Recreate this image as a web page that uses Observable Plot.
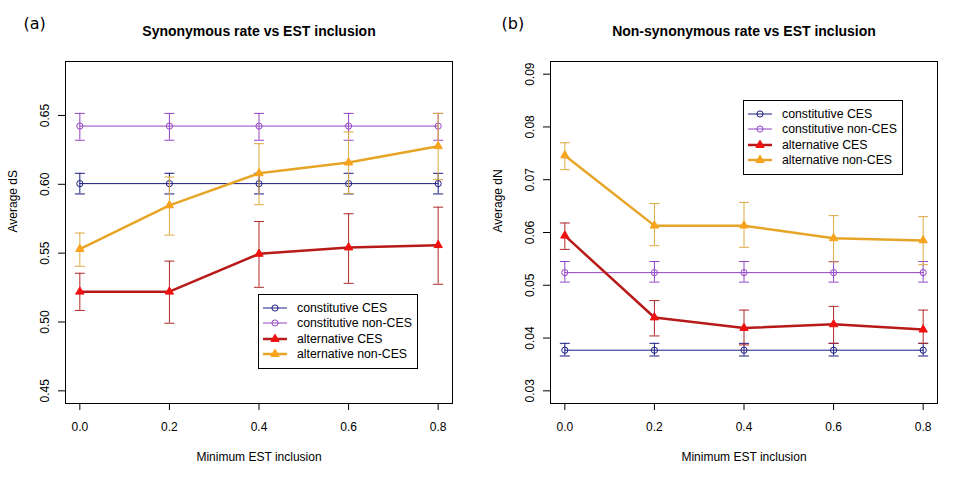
<!DOCTYPE html>
<html><head><meta charset="utf-8">
<script src="https://cdn.jsdelivr.net/npm/d3@7"></script>
<script src="https://cdn.jsdelivr.net/npm/@observablehq/plot@0.6"></script>
<style>
body{margin:0;background:#fff;}
#wrap{position:relative;width:980px;height:478px;display:flex;font-family:"Liberation Sans",Arial,sans-serif;}
.panel{position:relative;width:490px;height:478px;}
.legend{position:absolute;box-sizing:border-box;border:1px solid #000;background:#fff;font-size:12.3px;padding-top:5.5px;color:#000;}
.legend .row{height:15.3px;display:flex;align-items:center;white-space:nowrap;}
.legend svg{margin-left:4px;margin-right:10px;flex:none;}
</style></head><body><div id="wrap"></div>
<script>
// ---------- data ----------
const xValues = [0, 0.2, 0.4, 0.6, 0.8];
const xTicks = [0, 0.2, 0.4, 0.6, 0.8];
const seriesNames = ["constitutive CES", "constitutive non-CES", "alternative CES", "alternative non-CES"];

// Panel (a): average dS
const dS_constCES    = [0.6005, 0.6005, 0.6005, 0.6005, 0.6005];
const dS_constCES_lo = [0.593, 0.593, 0.593, 0.593, 0.593];
const dS_constCES_hi = [0.608, 0.608, 0.608, 0.608, 0.608];
const dS_constNon    = [0.6423, 0.6423, 0.6423, 0.6423, 0.6423];
const dS_constNon_lo = [0.632, 0.632, 0.632, 0.632, 0.632];
const dS_constNon_hi = [0.6515, 0.6515, 0.6515, 0.6515, 0.6515];
const dS_altCES      = [0.522, 0.522, 0.5495, 0.5541, 0.5558];
const dS_altCES_lo   = [0.5084, 0.4991, 0.5252, 0.5281, 0.5274];
const dS_altCES_hi   = [0.5354, 0.5442, 0.573, 0.5786, 0.5834];
const dS_altNon      = [0.553, 0.5847, 0.608, 0.6158, 0.6277];
const dS_altNon_lo   = [0.5405, 0.5631, 0.5852, 0.5932, 0.6034];
const dS_altNon_hi   = [0.5646, 0.6053, 0.6295, 0.638, 0.6515];
const dSTicks = [0.45, 0.50, 0.55, 0.60, 0.65];
const dSLimits = [0.45, 0.68];

// Panel (b): average dN
const dN_constCES    = [0.0377, 0.0377, 0.0377, 0.0377, 0.0377];
const dN_constCES_lo = [0.0366, 0.0366, 0.0366, 0.0366, 0.0366];
const dN_constCES_hi = [0.0390, 0.0390, 0.0390, 0.0390, 0.0390];
const dN_constNon    = [0.0524, 0.0524, 0.0524, 0.0524, 0.0524];
const dN_constNon_lo = [0.0506, 0.0506, 0.0506, 0.0506, 0.0506];
const dN_constNon_hi = [0.0545, 0.0545, 0.0545, 0.0545, 0.0545];
const dN_altCES      = [0.0594, 0.0439, 0.0419, 0.0426, 0.0416];
const dN_altCES_lo   = [0.0568, 0.0404, 0.0387, 0.0390, 0.0390];
const dN_altCES_hi   = [0.0618, 0.0471, 0.0453, 0.0460, 0.0453];
const dN_altNon      = [0.0746, 0.0613, 0.0613, 0.0589, 0.0585];
const dN_altNon_lo   = [0.0719, 0.0575, 0.0572, 0.0544, 0.0539];
const dN_altNon_hi   = [0.0770, 0.0655, 0.0657, 0.0632, 0.0630];
const dNTicks = [0.03, 0.04, 0.05, 0.06, 0.07, 0.08, 0.09];
const dNLimits = [0.03, 0.09];

// ---------- styles ----------
const styles = {
  "constitutive CES":     {line: "#1c1c82", point: "#1c1c82", err: "#1c1c82", width: 1, symbol: "circle", r: 3.1, filled: false},
  "constitutive non-CES": {line: "#9444c4", point: "#9444c4", err: "#9444c4", width: 1, symbol: "circle", r: 3.1, filled: false},
  "alternative CES":      {line: "#b81a1a", point: "#f01010", err: "#b02828", width: 2.5, symbol: "triangle", r: 3.1, filled: true},
  "alternative non-CES":  {line: "#e6a526", point: "#f7a31c", err: "#dcaa40", width: 2.5, symbol: "triangle", r: 3.1, filled: true}
};

const capSymbol = {draw(ctx, size) { const w = Math.sqrt(size / Math.PI); ctx.moveTo(-w, 0); ctx.lineTo(w, 0); }};

function buildRows(vals) {
  const rows = [];
  seriesNames.forEach((s, i) => {
    const [v, lo, hi] = vals[i];
    xValues.forEach((x, j) => rows.push({series: s, x, y: v[j], lo: lo[j], hi: hi[j]}));
  });
  return rows;
}

function extend([a, b]) { const d = (b - a) * 0.04; return [a - d, b + d]; }

function panel({rows, yLimits, yTicks, yFormat, yLabel, title, tag, marginLeft, marginRight, tagDx}) {
  const marks = [Plot.frame({stroke: "#000", strokeWidth: 1})];
  for (const s of seriesNames) {
    const st = styles[s];
    const d = rows.filter(r => r.series === s);
    marks.push(Plot.line(d, {x: "x", y: "y", stroke: st.line, strokeWidth: st.width}));
    marks.push(Plot.ruleX(d, {x: "x", y1: "lo", y2: "hi", stroke: st.err, strokeWidth: 1}));
    marks.push(Plot.dot(d, {x: "x", y: "lo", symbol: capSymbol, r: 5, stroke: st.err, strokeWidth: 1, fill: "none"}));
    marks.push(Plot.dot(d, {x: "x", y: "hi", symbol: capSymbol, r: 5, stroke: st.err, strokeWidth: 1, fill: "none"}));
    if (st.filled) {
      marks.push(Plot.dot(d, {x: "x", y: "y", symbol: st.symbol, r: st.r, fill: st.point, stroke: st.point, strokeWidth: 1}));
    } else {
      marks.push(Plot.dot(d, {x: "x", y: "y", symbol: st.symbol, r: st.r, fill: "none", stroke: st.point, strokeWidth: 1}));
    }
  }
  marks.push(Plot.axisX({ticks: xTicks, tickFormat: d3.format(".1f"), tickSize: 7, tickPadding: 12, label: null, fontSize: 12}));
  marks.push(Plot.axisY({ticks: yTicks, tickFormat: d3.format(yFormat), tickSize: 7, tickPadding: 10, tickRotate: -90, label: null, fontSize: 12}));
  marks.push(Plot.text([yLabel], {text: d => d, frameAnchor: "left", dx: -52, rotate: -90, fontSize: 12, lineAnchor: "middle"}));
  marks.push(Plot.text(["Minimum EST inclusion"], {text: d => d, frameAnchor: "bottom", dy: 54, fontSize: 12, lineAnchor: "middle"}));
  marks.push(Plot.text([title], {text: d => d, frameAnchor: "top", dy: -30, fontSize: 14, fontWeight: "bold", lineAnchor: "middle"}));
  marks.push(Plot.text([tag], {text: d => d, frameAnchor: "top-left", dx: tagDx, dy: -38, fontSize: 16, textAnchor: "start", lineAnchor: "middle", fontFamily: "DejaVu Sans"}));
  return Plot.plot({
    width: 490, height: 478,
    marginLeft, marginRight, marginTop: 61, marginBottom: 75,
    style: {fontFamily: "Liberation Sans, Arial, sans-serif", fontSize: "12px", color: "#000", background: "#fff"},
    x: {domain: extend([0, 0.8])},
    y: {domain: extend(yLimits)},
    marks
  });
}

function legend(left, top) {
  const div = document.createElement("div");
  div.className = "legend";
  Object.assign(div.style, {left: left + "px", top: top + "px", width: "160px", height: "75px"});
  for (const s of seriesNames) {
    const st = styles[s];
    const row = document.createElement("div");
    row.className = "row";
    const ns = "http://www.w3.org/2000/svg";
    const svg = document.createElementNS(ns, "svg");
    svg.setAttribute("width", 24); svg.setAttribute("height", 12);
    const ln = document.createElementNS(ns, "line");
    ln.setAttribute("x1", 0); ln.setAttribute("x2", 24); ln.setAttribute("y1", 6); ln.setAttribute("y2", 6);
    ln.setAttribute("stroke", st.line); ln.setAttribute("stroke-width", st.width);
    svg.appendChild(ln);
    const p = document.createElementNS(ns, "path");
    p.setAttribute("transform", "translate(12,6)");
    p.setAttribute("d", d3.symbol(st.symbol === "circle" ? d3.symbolCircle : d3.symbolTriangle, Math.PI * st.r * st.r)());
    p.setAttribute("fill", st.filled ? st.point : "none");
    p.setAttribute("stroke", st.point);
    svg.appendChild(p);
    row.appendChild(svg);
    const t = document.createElement("span");
    t.textContent = s;
    row.appendChild(t);
    div.appendChild(row);
  }
  return div;
}

const wrap = document.getElementById("wrap");

const pa = document.createElement("div"); pa.className = "panel";
pa.appendChild(panel({
  rows: buildRows([[dS_constCES, dS_constCES_lo, dS_constCES_hi], [dS_constNon, dS_constNon_lo, dS_constNon_hi],
                   [dS_altCES, dS_altCES_lo, dS_altCES_hi], [dS_altNon, dS_altNon_lo, dS_altNon_hi]]),
  yLimits: dSLimits, yTicks: dSTicks, yFormat: ".2f", yLabel: "Average dS",
  title: "Synonymous rate vs EST inclusion", tag: "(a)", marginLeft: 65, marginRight: 38, tagDx: -42
}));
pa.appendChild(legend(258, 294));
wrap.appendChild(pa);

const pb = document.createElement("div"); pb.className = "panel";
pb.appendChild(panel({
  rows: buildRows([[dN_constCES, dN_constCES_lo, dN_constCES_hi], [dN_constNon, dN_constNon_lo, dN_constNon_hi],
                   [dN_altCES, dN_altCES_lo, dN_altCES_hi], [dN_altNon, dN_altNon_lo, dN_altNon_hi]]),
  yLimits: dNLimits, yTicks: dNTicks, yFormat: ".2f", yLabel: "Average dN",
  title: "Non-synonymous rate vs EST inclusion", tag: "(b)", marginLeft: 60, marginRight: 43, tagDx: -49
}));
pb.appendChild(legend(253, 100));
wrap.appendChild(pb);
</script>
</body></html>
